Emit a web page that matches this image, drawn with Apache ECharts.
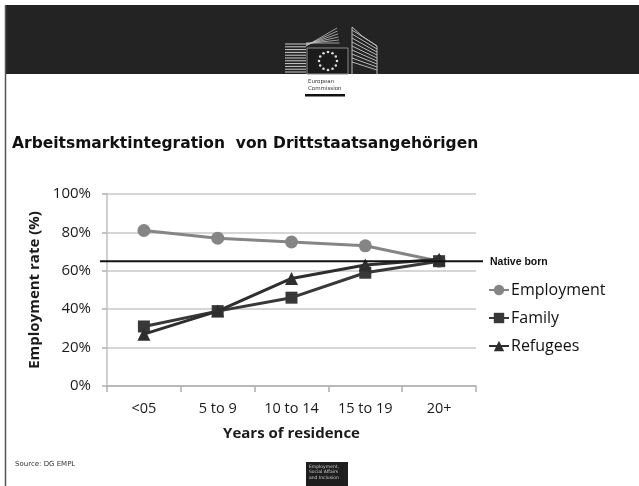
<!DOCTYPE html>
<html><head><meta charset="utf-8">
<script src="https://cdn.jsdelivr.net/npm/echarts@6/dist/echarts.min.js"></script>
<style>html,body{margin:0;padding:0;background:#fff;}#c{width:639px;height:486px;}</style>
</head><body><div id="c"></div>
<script>
var categories = ['<05', '5 to 9', '10 to 14', '15 to 19', '20+'];
var employment = [81, 77, 75, 73, 65];
var family = [31, 39, 46, 59, 65];
var refugees = [27, 39, 56, 63, 66];
var nativeBorn = 65;
var yTicks = [0, 20, 40, 60, 80, 100];

var chart = echarts.init(document.getElementById('c'), null, {renderer: 'canvas'});
var axisFont = 'Open Sans';
var option = {
  animation: false,
  backgroundColor: '#fff',
  grid: {left: 107, right: 163, top: 194, bottom: 100, containLabel: false},
  xAxis: {
    type: 'category', data: categories, boundaryGap: true,
    axisLine: {show: true, lineStyle: {color: '#b0b0b0', width: 1.5}},
    axisTick: {show: true, length: 6, lineStyle: {color: '#b0b0b0', width: 1.5}},
    axisLabel: {color: '#1a1a1a', fontFamily: axisFont, fontSize: 14.5, margin: 15},
    name: 'Years of residence', nameLocation: 'middle', nameGap: 40,
    nameTextStyle: {color: '#1a1a1a', fontFamily: axisFont, fontWeight: 'bold', fontSize: 15}
  },
  yAxis: {
    type: 'value', min: yTicks[0], max: yTicks[yTicks.length - 1], interval: 20,
    axisLine: {show: true, lineStyle: {color: '#c0c0c0', width: 1.5}},
    axisTick: {show: true, length: 5, lineStyle: {color: '#b0b0b0', width: 1.5}},
    splitLine: {show: true, lineStyle: {color: '#c8c8c8', width: 1.5}},
    axisLabel: {color: '#1a1a1a', fontFamily: axisFont, fontSize: 15, margin: 16,
      formatter: function (v) { return v + '%'; }},
    name: 'Employment rate (%)', nameLocation: 'middle', nameGap: 62, nameRotate: 90,
    nameTextStyle: {color: '#1a1a1a', fontFamily: axisFont, fontWeight: 'bold', fontSize: 15}
  },
  legend: {
    orient: 'vertical', left: 483, top: 277, itemGap: 12, itemWidth: 20, itemHeight: 13,
    textStyle: {color: '#111', fontFamily: axisFont, fontSize: 16, padding: [0, 0, 0, -3]},
    data: ['Employment', 'Family', 'Refugees']
  },
  series: [
    {name: 'Employment', type: 'line', data: employment, symbol: 'circle', symbolSize: 13,
      z: 2, lineStyle: {color: '#858585', width: 3}, itemStyle: {color: '#858585'}},
    {name: 'Family', type: 'line', data: family, symbol: 'rect', symbolSize: 12,
      z: 3, lineStyle: {color: '#383838', width: 3}, itemStyle: {color: '#383838'}},
    {name: 'Refugees', type: 'line', data: refugees, symbol: 'triangle', symbolSize: 13,
      z: 4, lineStyle: {color: '#2e2e2e', width: 3}, itemStyle: {color: '#2e2e2e'}}
  ]
};
chart.setOption(option);

var yNative = chart.convertToPixel({yAxisIndex: 0}, nativeBorn);

// logo stars
var stars = [];
for (var i = 0; i < 12; i++) {
  var a = i / 12 * Math.PI * 2;
  stars.push({type: 'circle', shape: {cx: 328 + 9 * Math.cos(a), cy: 61 + 9 * Math.sin(a), r: 1.3},
    style: {fill: '#ddd'}, z: 12});
}
var leftBld = [];
for (var j = 0; j < 11; j++) {
  var yy = 44 + j * 2.8;
  leftBld.push({type: 'line', shape: {x1: 285, y1: yy, x2: 306, y2: yy}, style: {stroke: '#cfcfcf', lineWidth: 1}, z: 11});
}
for (var k = 0; k < 6; k++) {
  leftBld.push({type: 'line', shape: {x1: 306, y1: 46 - k * 0.6, x2: 337 + k * 0.5, y2: 28 + k * 3}, style: {stroke: '#bfbfbf', lineWidth: 0.8}, z: 11});
}
var rightBld = [];
for (var m = 0; m < 9; m++) {
  rightBld.push({type: 'line', shape: {x1: 352, y1: 30 + m * 4, x2: 377, y2: 46 + m * 3}, style: {stroke: '#c8c8c8', lineWidth: 0.9}, z: 11});
}
rightBld.push({type: 'polyline', shape: {points: [[352, 74], [352, 27], [362, 36], [377, 46], [377, 74]]}, style: {stroke: '#bbb', fill: null, lineWidth: 1}, z: 11});

chart.setOption({
  graphic: [
    {type: 'rect', shape: {x: 5, y: 5, width: 634, height: 69}, style: {fill: '#232323'}, z: 10},
    {type: 'line', shape: {x1: 5.5, y1: 5, x2: 5.5, y2: 486}, style: {stroke: '#555', lineWidth: 1.5}, z: 10},
    {type: 'rect', shape: {x: 307, y: 48, width: 41, height: 26}, style: {fill: '#1b1b1b', stroke: '#8a8a8a', lineWidth: 1}, z: 12},
    {type: 'text', left: 308, top: 78, style: {text: 'European\nCommission', fill: '#333', font: '5.5px "DejaVu Sans"', lineHeight: 7}, z: 12},
    {type: 'rect', shape: {x: 305, y: 94, width: 40, height: 2.5}, style: {fill: '#111'}, z: 12},
    {type: 'text', left: 12, top: 136, style: {text: 'Arbeitsmarktintegration  von Drittstaatsangehörigen', fill: '#111', font: 'bold 15.5px "DejaVu Sans"'}, z: 12},
    {type: 'line', shape: {x1: 100, y1: yNative, x2: 483, y2: yNative}, style: {stroke: '#111', lineWidth: 2}, z: 20},
    {type: 'text', left: 490, top: yNative - 5, style: {text: 'Native born', fill: '#111', font: 'bold 10.5px "Liberation Sans"'}, z: 12},
    {type: 'text', left: 15, top: 461, style: {text: 'Source: DG EMPL', fill: '#333', font: '7px "DejaVu Sans"'}, z: 12},
    {type: 'rect', shape: {x: 306, y: 462, width: 42, height: 24}, style: {fill: '#1e1e1e'}, z: 12},
    {type: 'text', left: 309, top: 464, style: {text: 'Employment,\nSocial Affairs\nand Inclusion', fill: '#ccc', font: '4.5px "DejaVu Sans"', lineHeight: 5.5}, z: 13}
  ].concat(stars).concat(leftBld).concat(rightBld)
});
</script></body></html>
